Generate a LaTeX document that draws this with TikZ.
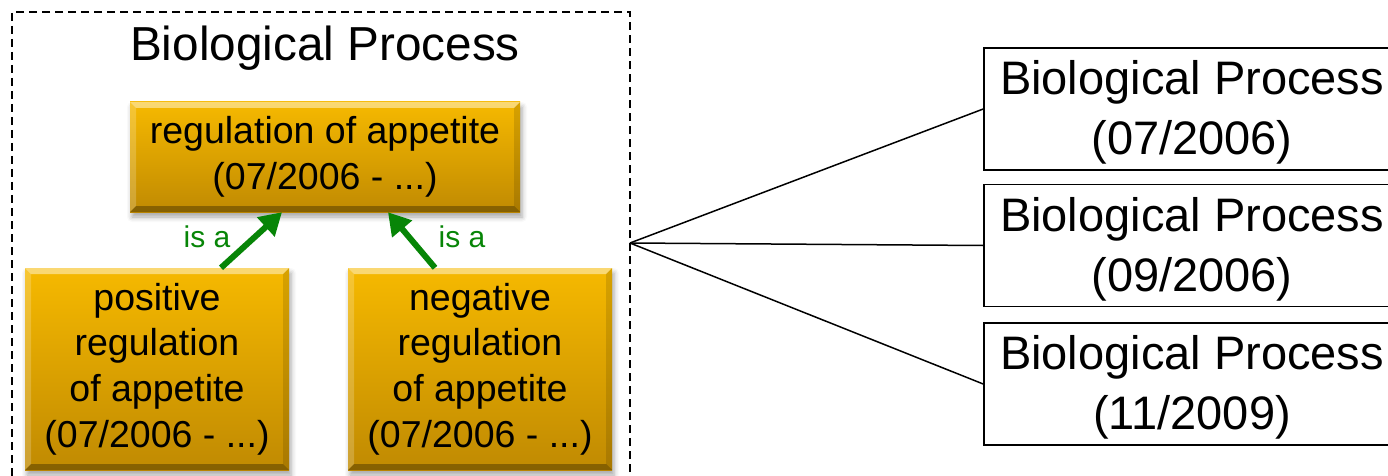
\documentclass[tikz,border=0pt]{standalone}
\usepackage{fontspec}
\setmainfont{Liberation Sans}
\usetikzlibrary{arrows.meta,shadows.blur,calc}
\definecolor{goldtop}{HTML}{F6B900}
\definecolor{goldbot}{HTML}{C08A02}
\definecolor{isagreen}{HTML}{078507}
\tikzset{
  gold/.style={top color=goldtop, bottom color=goldbot, inner sep=0pt, align=center,
    font=\fontsize{37.5}{45.6}\selectfont,
    blur shadow={shadow xshift=2pt, shadow yshift=-5pt, shadow blur radius=5pt, shadow opacity=35},
    path picture={
      \fill[white,opacity=.45] (path picture bounding box.north west) -- (path picture bounding box.north east)
        -- ([shift={(-6pt,-6pt)}]path picture bounding box.north east) -- ([shift={(6pt,-6pt)}]path picture bounding box.north west) -- cycle;
      \fill[white,opacity=.2] (path picture bounding box.north west) -- ([shift={(6pt,-6pt)}]path picture bounding box.north west)
        -- ([shift={(6pt,6pt)}]path picture bounding box.south west) -- (path picture bounding box.south west) -- cycle;
      \fill[black,opacity=.12] (path picture bounding box.north east) -- ([shift={(-6pt,-6pt)}]path picture bounding box.north east)
        -- ([shift={(-6pt,6pt)}]path picture bounding box.south east) -- (path picture bounding box.south east) -- cycle;
      \fill[black,opacity=.3] (path picture bounding box.south west) -- (path picture bounding box.south east)
        -- ([shift={(-6pt,6pt)}]path picture bounding box.south east) -- ([shift={(6pt,6pt)}]path picture bounding box.south west) -- cycle;
    }},
  rbox/.style={draw, line width=1.6pt, inner sep=0pt, align=center, minimum width=416pt, minimum height=122pt,
    font=\fontsize{47}{60}\selectfont},
  isaarrow/.style={draw=isagreen, line width=6pt, -{Triangle[length=22pt,width=25pt]}},
  isalabel/.style={text=isagreen, font=\fontsize{30}{36}\selectfont, inner sep=0pt},
  fanline/.style={line width=1.5pt},
  groupbox/.style={draw, dash pattern=on 8pt off 5pt, line width=1.2pt, inner sep=0pt}
}
\begin{document}
\begin{tikzpicture}[x=1pt,y=-1pt]
\useasboundingbox (0,0) rectangle (1388,476);
\node[groupbox, minimum width=618pt, minimum height=466pt] (group) at (321,245) {};
\node[font=\fontsize{47.7}{57}\selectfont, inner sep=0pt] (title) at (325,48) {Biological Process};
\node[gold, minimum width=390pt, minimum height=110pt] (reg) at (325,157) {regulation of appetite\\(07/2006 - ...)};
\node[gold, minimum width=264pt, minimum height=202pt] (pos) at (157,369) {positive\\regulation\\of appetite\\(07/2006 - ...)};
\node[gold, minimum width=264pt, minimum height=202pt] (neg) at (480,369) {negative\\regulation\\of appetite\\(07/2006 - ...)};
\draw[isaarrow] ([xshift=64pt]pos.north) -- ([xshift=-43pt]reg.south);
\draw[isaarrow] ([xshift=-45pt]neg.north) -- ([xshift=63pt]reg.south);
\node[isalabel] (isa1) at (207,237) {is a};
\node[isalabel] (isa2) at (462,237) {is a};
\node[rbox] (v1) at (1192,109) {\rule{0pt}{41pt}Biological Process\\(07/2006)};
\node[rbox] (v2) at (1192,245.5) {\rule{0pt}{41pt}Biological Process\\(09/2006)};
\node[rbox] (v3) at (1192,384) {\rule{0pt}{41pt}Biological Process\\(11/2009)};
\coordinate (fan) at (630,243);
\draw[fanline] (fan) -- (v1.west);
\draw[fanline] (fan) -- (v2.west);
\draw[fanline] (fan) -- (v3.west);
\end{tikzpicture}
\end{document}
